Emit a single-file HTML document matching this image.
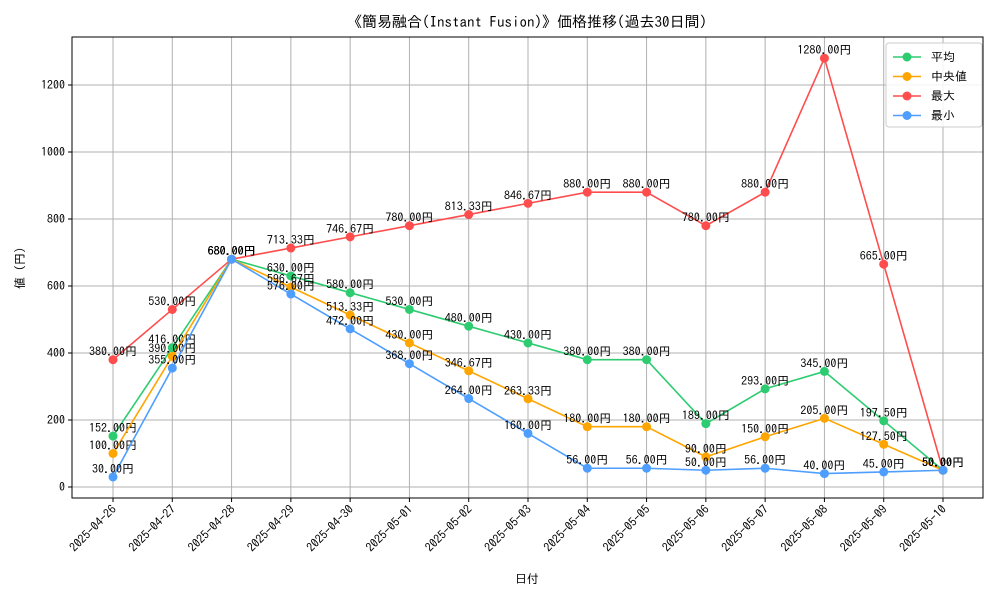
<!DOCTYPE html>
<html><head><meta charset="utf-8"><style>
body{margin:0;background:#fff;}
svg{font-family:"IPAGothic","Liberation Sans","Noto Sans CJK JP",sans-serif;}
</style></head><body>
<svg id="c" width="1000" height="600" xmlns="http://www.w3.org/2000/svg"></svg>
<script>
const categories=["2025-04-26","2025-04-27","2025-04-28","2025-04-29","2025-04-30","2025-05-01","2025-05-02","2025-05-03","2025-05-04","2025-05-05","2025-05-06","2025-05-07","2025-05-08","2025-05-09","2025-05-10"];
const avgValues=[152,416,680,630,580,530,480,430,380,380,189,293,345,197.5,50];
const medianValues=[100,390,680,596.67,513.33,430,346.67,263.33,180,180,90,150,205,127.5,50];
const maxValues=[380,530,680,713.33,746.67,780,813.33,846.67,880,880,780,880,1280,665,50];
const minValues=[30,355,680,576,472,368,264,160,56,56,50,56,40,45,50];
const yTicks=[0,200,400,600,800,1000,1200];
const seriesNames=["平均","中央値","最大","最小"];
const colors=["#2ecc71","#ffa500","#ff4d4d","#4d9eff"];

const svg=document.getElementById('c');
const NS="http://www.w3.org/2000/svg";
const L=72,R=983,T=37,B=498;
const x=i=>113+i*(943-113)/(categories.length-1);
const y=v=>487-v*(487-85)/1200;
function mk(tag,attrs,parent){const e=document.createElementNS(NS,tag);for(const k in attrs)e.setAttribute(k,attrs[k]);(parent||svg).appendChild(e);return e;}

const grid=mk('g',{});


categories.forEach((c,i)=>{
  mk('line',{x1:x(i),x2:x(i),y1:T,y2:B,stroke:'#b0b0b0','stroke-width':1},grid);
  mk('line',{x1:x(i),x2:x(i),y1:B,y2:B+4,stroke:'#000'});
  const t=mk('text',{x:x(i)+4,y:B+12,'font-size':12,'text-anchor':'end',transform:`rotate(-45 ${x(i)+4} ${B+12})`});
  t.textContent=c;
  
  
});
yTicks.forEach(v=>{
  mk('line',{x1:L,x2:R,y1:y(v),y2:y(v),stroke:'#b0b0b0','stroke-width':1},grid);
  mk('line',{x1:L-4,x2:L,y1:y(v),y2:y(v),stroke:'#000'});
  const t=mk('text',{x:L-7,y:y(v)+4,'font-size':12,'text-anchor':'end'});
  t.textContent=v;
  
  
});
mk('rect',{x:L,y:T,width:R-L,height:B-T,fill:'none',stroke:'#000','stroke-width':1});

const all=[avgValues,medianValues,maxValues,minValues];
all.forEach((vals,s)=>{
  const g=mk('g',{});
  
  
  mk('polyline',{points:vals.map((v,i)=>x(i)+','+y(v)).join(' '),fill:'none',stroke:colors[s],'stroke-width':1.6},g);
  vals.forEach((v,i)=>{
    const p=mk('circle',{cx:x(i),cy:y(v),r:4.5,fill:colors[s]},g);
    
    
  });
  vals.forEach((v,i)=>{
    const t=mk('text',{x:x(i),y:y(v)-4,'font-size':12,'text-anchor':'middle',fill:'#000'},g);
    t.textContent=v.toFixed(2)+'円';
    
    
  });
});

const title=mk('text',{x:527,y:27,'font-size':15,'text-anchor':'middle'});
title.textContent='《簡易融合(Instant Fusion)》価格推移(過去30日間)';


const xt=mk('text',{x:527,y:583,'font-size':12,'text-anchor':'middle'});
xt.textContent='日付';


const yt=mk('text',{x:24,y:268,'font-size':12,'text-anchor':'middle',transform:'rotate(-90 24 268)'});
yt.textContent='値 (円)';



const lg=mk('g',{});


mk('rect',{x:886,y:43,width:96,height:84,fill:'#fff','fill-opacity':0.85,stroke:'#ccc',rx:3},lg);
seriesNames.forEach((n,i)=>{
  const yy=57+i*19.5;
  const e=mk('g',{},lg);
  
  
  mk('line',{x1:893,x2:921,y1:yy,y2:yy,stroke:colors[i],'stroke-width':1.6},e);
  mk('circle',{cx:907,cy:yy,r:4.5,fill:colors[i]},e);
  const t=mk('text',{x:931,y:yy+4,'font-size':12},e);
  t.textContent=n;
});
</script>
</body></html>
